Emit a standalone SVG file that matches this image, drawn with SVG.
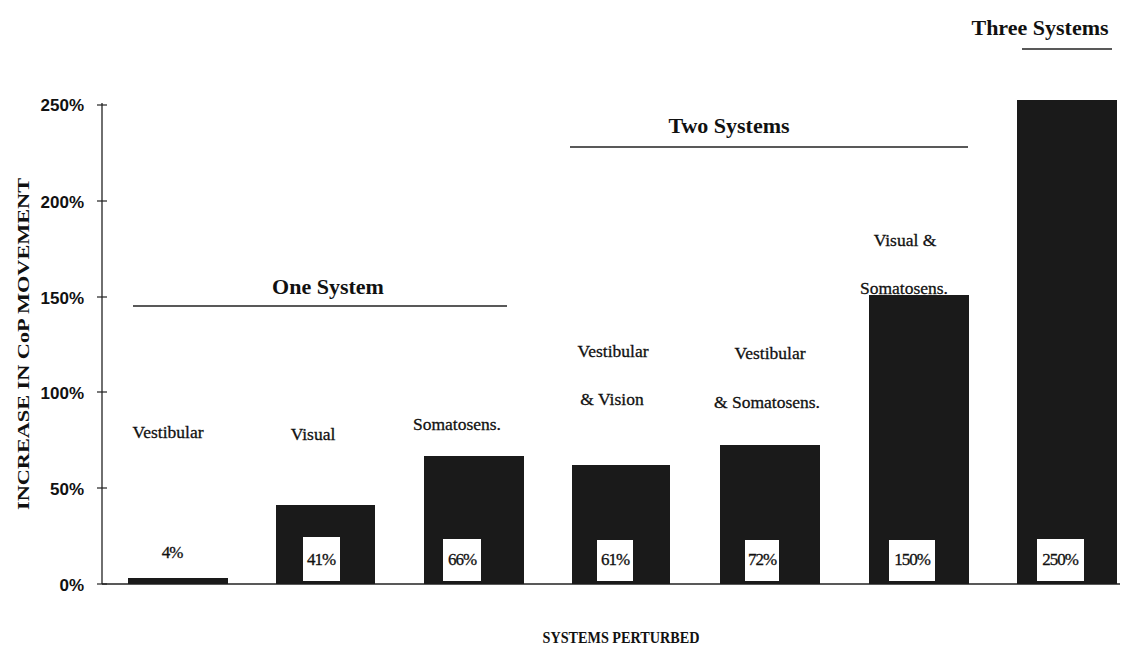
<svg xmlns="http://www.w3.org/2000/svg" width="1136" height="651" viewBox="0 0 1136 651">
<style>
.tick{font-family:"Liberation Sans",Arial,sans-serif;font-weight:bold;font-size:17px;fill:#111;text-anchor:end}
.lbl{font-family:"Liberation Serif","Times New Roman",serif;font-size:17.5px;fill:#111;stroke:#111;stroke-width:0.3;text-anchor:middle}
.grp{font-family:"Liberation Serif","Times New Roman",serif;font-weight:bold;font-size:22px;fill:#111;text-anchor:middle}
.ax{font-family:"Liberation Serif","Times New Roman",serif;font-weight:bold;font-size:17px;fill:#111;text-anchor:middle}
.val{font-family:"Liberation Serif","Times New Roman",serif;font-size:17px;fill:#111;stroke:#111;stroke-width:0.3;text-anchor:middle;letter-spacing:-1px}
.bar{fill:#1a1a1a}
.box{fill:#fff}
.ln{stroke:#222;stroke-width:1.3;fill:none}
</style>
<rect width="1136" height="651" fill="#fff"/>
<g id="axes">
<line class="ln" x1="102" y1="103" x2="102" y2="584"/>
<line class="ln" x1="102" y1="584" x2="1120" y2="584"/>
<g stroke="#222" stroke-width="1.2">
<line x1="97" y1="105" x2="107" y2="105"/>
<line x1="97" y1="201" x2="107" y2="201"/>
<line x1="97" y1="297" x2="107" y2="297"/>
<line x1="97" y1="392" x2="107" y2="392"/>
<line x1="97" y1="488" x2="107" y2="488"/>
<line x1="97" y1="584" x2="107" y2="584"/>
</g>
<text class="tick" x="84" y="111">250%</text>
<text class="tick" x="84" y="208">200%</text>
<text class="tick" x="84" y="304">150%</text>
<text class="tick" x="84" y="399">100%</text>
<text class="tick" x="84" y="495">50%</text>
<text class="tick" x="84" y="591">0%</text>
<text class="ax" transform="translate(29,344) rotate(-90)" font-size="19" textLength="332" lengthAdjust="spacingAndGlyphs">INCREASE IN CoP MOVEMENT</text>
<text class="ax" x="621" y="643" textLength="157" lengthAdjust="spacingAndGlyphs">SYSTEMS PERTURBED</text>
</g>
<g id="groups">
<text class="grp" x="328" y="294">One System</text>
<line class="ln" x1="133" y1="306" x2="507" y2="306"/>
<text class="grp" x="729" y="133">Two Systems</text>
<line class="ln" x1="570" y1="147" x2="968" y2="147"/>
<text class="grp" x="1040" y="35">Three Systems</text>
<line class="ln" x1="1022" y1="49" x2="1112" y2="49"/>
</g>
<g id="bar-vestibular">
<rect class="bar" x="128" y="578" width="100" height="6"/>
<text class="val" x="172" y="558">4%</text>
<text class="lbl" x="168" y="438">Vestibular</text>
</g>
<g id="bar-visual">
<rect class="bar" x="276" y="505" width="99" height="79"/>
<rect class="box" x="303" y="537" width="37" height="44"/>
<text class="val" x="321" y="565">41%</text>
<text class="lbl" x="313" y="440">Visual</text>
</g>
<g id="bar-somatosens">
<rect class="bar" x="424" y="456" width="100" height="128"/>
<rect class="box" x="443" y="539" width="38" height="42"/>
<text class="val" x="462" y="565">66%</text>
<text class="lbl" x="457" y="430">Somatosens.</text>
</g>
<g id="bar-vest-vision">
<rect class="bar" x="572" y="465" width="98" height="119"/>
<rect class="box" x="597" y="540" width="36" height="41"/>
<text class="val" x="615" y="565">61%</text>
<text class="lbl" x="613" y="357">Vestibular</text>
<text class="lbl" x="612" y="405">&amp; Vision</text>
</g>
<g id="bar-vest-soma">
<rect class="bar" x="720" y="445" width="100" height="139"/>
<rect class="box" x="745" y="540" width="34" height="41"/>
<text class="val" x="762" y="565">72%</text>
<text class="lbl" x="770" y="359">Vestibular</text>
<text class="lbl" x="767" y="408">&amp; Somatosens.</text>
</g>
<g id="bar-visual-soma">
<rect class="bar" x="869" y="295" width="100" height="289"/>
<rect class="box" x="889" y="540" width="46" height="41"/>
<text class="val" x="912" y="565">150%</text>
<text class="lbl" x="905" y="246">Visual &amp;</text>
<text class="lbl" x="904" y="294">Somatosens.</text>
</g>
<g id="bar-three">
<rect class="bar" x="1017" y="100" width="100" height="484"/>
<rect class="box" x="1037" y="539" width="47" height="42"/>
<text class="val" x="1060" y="565">250%</text>
</g>
</svg>
